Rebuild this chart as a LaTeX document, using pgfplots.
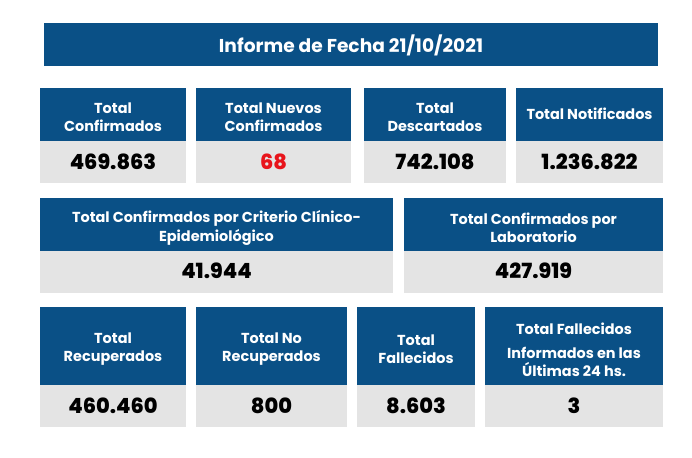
\documentclass[border=0pt]{standalone}
\usepackage{pgfplots}
\pgfplotsset{compat=1.18}
\usepackage{fontspec}
\setmainfont{Poppins}[BoldFont={Poppins Bold}]
\newfontfamily\heavy{Poppins ExtraBold}

\definecolor{hdr}{RGB}{10,80,134}
\definecolor{cell}{RGB}{228,228,228}
\definecolor{rojo}{RGB}{232,20,27}

% one card: x left, x right, y top, y header/value split, y bottom
\newcommand{\card}[5]{%
  \fill[hdr] (axis cs:#1,#3) rectangle (axis cs:#2,#4);
  \fill[cell] (axis cs:#1,#4) rectangle (axis cs:#2,#5);
}

\tikzset{
  hd/.style={text=white, align=center, inner sep=0pt,
    font=\bfseries\fontsize{14.5}{18.5}\selectfont},
  val/.style={text=black, align=center, inner sep=0pt,
    font=\heavy\fontsize{21}{24}\selectfont},
}

\begin{document}
\begin{tikzpicture}
\begin{axis}[
    width=692bp, height=458bp,
    scale only axis,
    xmin=0, xmax=692,
    ymin=0, ymax=458,
    y dir=reverse,
    hide axis,
    clip=false,
  ]
  \fill[white] (axis cs:0,0) rectangle (axis cs:692,458);

  % title bar
  \fill[hdr] (axis cs:44,23) rectangle (axis cs:658,66);
  \node[text=white, inner sep=0pt, font=\bfseries\fontsize{18.7}{22}\selectfont]
    at (axis cs:351,45) {Informe de Fecha 21/10/2021};

  % row 1
  \card{40}{186}{88}{141}{183}
  \card{196}{351}{88}{141}{183}
  \card{364}{506}{88}{141}{183}
  \card{516}{663}{88}{141}{183}
  \node[hd] at (axis cs:113,117) {Total\\Confirmados};
  \node[hd] at (axis cs:273.5,117) {Total Nuevos\\Confirmados};
  \node[hd] at (axis cs:435,117) {Total\\Descartados};
  \node[hd] at (axis cs:589.5,114) {Total Notificados};
  \node[val] at (axis cs:113,162) {469.863};
  \node[val, text=rojo] at (axis cs:273.5,162) {68};
  \node[val] at (axis cs:435,162) {742.108};
  \node[val] at (axis cs:589.5,162) {1.236.822};

  % row 2
  \card{40}{393}{198}{251}{293}
  \card{404}{663}{198}{251}{293}
  \node[hd] at (axis cs:216.5,228) {Total Confirmados por Criterio Clínico-\\Epidemiológico};
  \node[hd] at (axis cs:533.5,228) {Total Confirmados por\\Laboratorio};
  \node[val] at (axis cs:216.5,271) {41.944};
  \node[val] at (axis cs:533.5,271) {427.919};

  % row 3
  \card{40}{186}{307}{385}{427}
  \card{196}{347}{307}{385}{427}
  \card{357}{475}{307}{385}{427}
  \card{485}{663}{307}{385}{427}
  \node[hd] at (axis cs:113,349) {Total\\Recuperados};
  \node[hd] at (axis cs:271.5,349) {Total No\\Recuperados};
  \node[hd] at (axis cs:416,349) {Total\\Fallecidos};
  \node[hd] at (axis cs:574,329) {Total Fallecidos};
  \node[hd] at (axis cs:574,362) {Informados en las\\Últimas 24 hs.};
  \node[val] at (axis cs:113,406) {460.460};
  \node[val] at (axis cs:271.5,406) {800};
  \node[val] at (axis cs:416,406) {8.603};
  \node[val] at (axis cs:574,406) {3};
\end{axis}
\end{tikzpicture}
\end{document}
